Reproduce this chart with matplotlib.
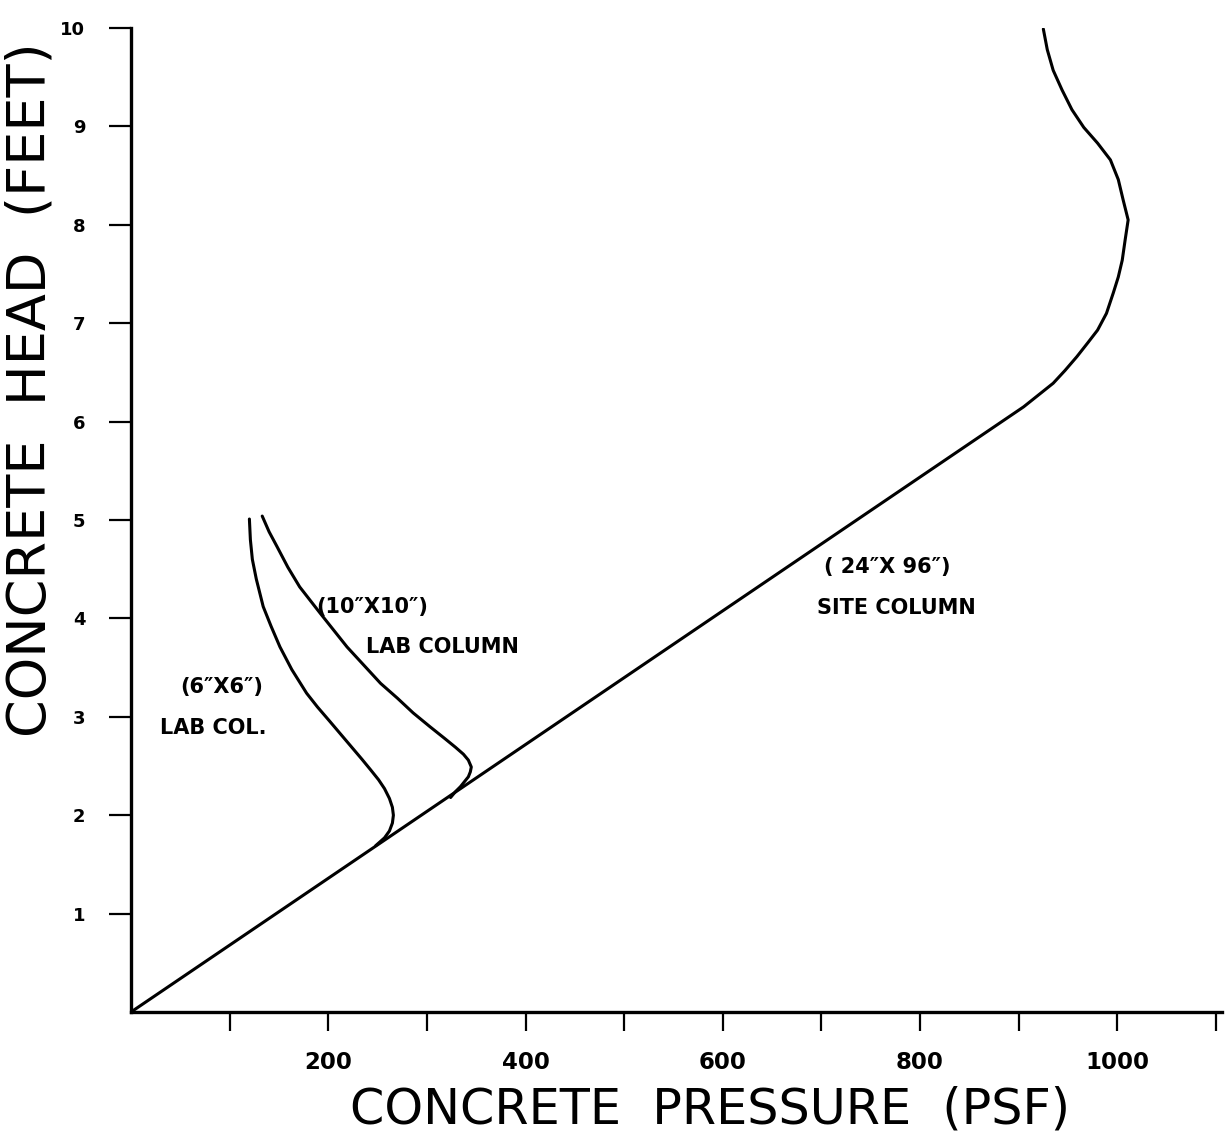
import matplotlib
matplotlib.use('Agg')
import matplotlib.pyplot as plt

# site column (24"x96"): hydrostatic line, then the curve near the top
site_psf = [0, 905, 920, 935, 947, 959, 970, 980, 989, 996, 1001, 1005, 1008, 1011,
            1006, 1001, 993, 980, 966, 954, 944, 935, 929, 925]
site_ft = [0, 6.15, 6.27, 6.39, 6.52, 6.66, 6.80, 6.93, 7.10, 7.31, 7.47, 7.64, 7.85, 8.05,
           8.25, 8.46, 8.66, 8.83, 8.99, 9.17, 9.37, 9.57, 9.78, 9.99]

# lab column (10"x10")
lab10_psf = [133, 140, 148, 159, 171, 192, 219, 253, 270, 286, 303, 318, 329, 337, 342, 345,
             344, 342, 338, 334, 329, 324]
lab10_ft = [5.04, 4.88, 4.73, 4.52, 4.32, 4.05, 3.71, 3.34, 3.19, 3.04, 2.90, 2.78, 2.69,
            2.62, 2.56, 2.49, 2.44, 2.39, 2.34, 2.29, 2.24, 2.18]

# lab column (6"x6")
lab6_psf = [120, 121, 123, 127, 134, 142, 151, 163, 178, 189, 201, 212, 223, 234, 243,
            251, 257, 262, 265, 266, 265, 262, 257, 248]
lab6_ft = [5.01, 4.80, 4.60, 4.40, 4.12, 3.92, 3.71, 3.48, 3.24, 3.10, 2.96, 2.83, 2.70,
           2.57, 2.46, 2.36, 2.27, 2.17, 2.08, 2.00, 1.92, 1.84, 1.77, 1.69]

x_ticks = [100, 200, 300, 400, 500, 600, 700, 800, 900, 1000, 1100]
x_labels = ['', '200', '', '400', '', '600', '', '800', '', '1000', '']
y_ticks = [1, 2, 3, 4, 5, 6, 7, 8, 9, 10]

fig = plt.figure(figsize=(12.27, 11.39), dpi=100)
ax = fig.add_axes([0.1068, 0.1115, 0.889, 0.8639])

for xs, ys in [(site_psf, site_ft), (lab10_psf, lab10_ft), (lab6_psf, lab6_ft)]:
    ax.plot(xs, ys, color='black', lw=2.2, solid_joinstyle='round', solid_capstyle='round')

ax.set_xlim(0, 1106)
ax.set_ylim(0, 10)

for s in ['top', 'right']:
    ax.spines[s].set_visible(False)
for s in ['left', 'bottom']:
    ax.spines[s].set_linewidth(2.4)

ax.set_xticks(x_ticks)
ax.set_xticklabels(x_labels, fontsize=16.5, fontweight='bold')
ax.set_yticks(y_ticks)
ax.set_yticklabels([str(v) for v in y_ticks], fontsize=13, fontweight='bold')
ax.tick_params(axis='x', direction='out', length=14, width=1.6, pad=14)
ax.tick_params(axis='y', direction='out', length=16, width=1.6, pad=17)

fig.text(0.5786, 0.0255, 'CONCRETE  PRESSURE  (PSF)', fontsize=35.5,
         ha='center', va='center')
fig.text(0.0245, 0.6576, 'CONCRETE  HEAD  (FEET)', fontsize=39,
         ha='center', va='center', rotation=90)

lab_font = dict(fontsize=15, fontweight='bold', ha='center', va='center')
ax.text(245, 4.12, '(10\u2033X10\u2033)', **lab_font)
ax.text(316, 3.71, 'LAB COLUMN', **lab_font)
ax.text(92, 3.30, '(6\u2033X6\u2033)', **lab_font)
ax.text(83, 2.89, 'LAB COL.', **lab_font)
ax.text(767, 4.52, '( 24\u2033X 96\u2033)', **lab_font)
ax.text(776, 4.11, 'SITE COLUMN', **lab_font)

fig.savefig('out.png', dpi=100, facecolor='white')
